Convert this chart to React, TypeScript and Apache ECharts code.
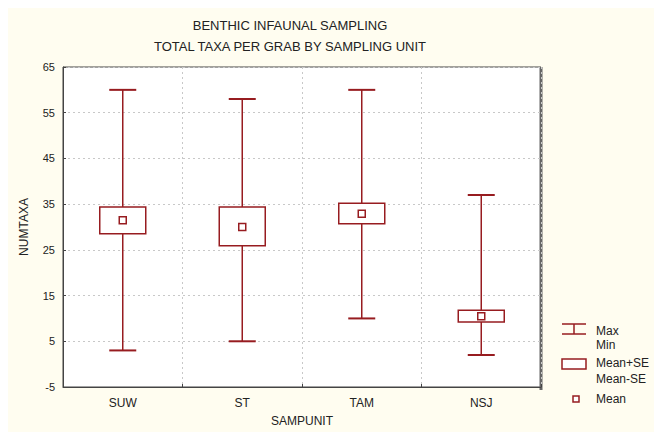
import React, { useEffect, useRef } from "react";
import * as echarts from "echarts";

const categories = ["SUW", "ST", "TAM", "NSJ"];
const minVals = [3, 5, 10, 2];
const maxVals = [60, 58, 60, 37];
const meanMinusSE = [28.5, 25.9, 30.7, 9.2];
const meanPlusSE = [34.4, 34.4, 35.2, 11.8];
const meanVals = [31.5, 30.0, 32.9, 10.5];
const yTicks = { min: -5, max: 65, interval: 10 };

const RED = "#971c20";
const FONT = "Liberation Sans";

export default function App() {
  const ref = useRef<HTMLDivElement>(null);
  useEffect(() => {
    if (!ref.current) return;
    document.body.style.margin = "0";
    document.documentElement.style.overflow = "hidden";
    const chart = echarts.init(ref.current, null, { renderer: "svg" });
    const data = categories.map((_, i) => [i, minVals[i], maxVals[i], meanMinusSE[i], meanPlusSE[i], meanVals[i]]);
    const txt = { fontFamily: FONT, fontSize: 12, fill: "#222" };
    chart.setOption({
      animation: false,
      backgroundColor: "#fffdf0",
      title: [
        { text: "BENTHIC INFAUNAL SAMPLING", left: 277, top: 6, textAlign: "center", textStyle: { fontFamily: FONT, fontSize: 13, fontWeight: "normal", color: "#222" } },
        { text: "TOTAL TAXA PER GRAB BY SAMPLING UNIT", left: 277, top: 27, textAlign: "center", textStyle: { fontFamily: FONT, fontSize: 13, fontWeight: "normal", color: "#222" } },
      ],
      grid: { left: 55, top: 59, right: 113, bottom: 42, show: true, backgroundColor: "#ffffff", borderColor: "#444", borderWidth: 1 },
      xAxis: {
        type: "category",
        data: categories,
        boundaryGap: true,
        name: "SAMPUNIT",
        nameLocation: "middle",
        nameGap: 28,
        nameTextStyle: { fontFamily: FONT, fontSize: 12, color: "#222" },
        axisLine: { onZero: false, lineStyle: { color: "#444" } },
        axisTick: { show: true, inside: true, length: 3, lineStyle: { color: "#444" } },
        axisLabel: { fontFamily: FONT, fontSize: 12, color: "#222", margin: 10 },
        splitLine: { show: true, lineStyle: { color: "#c8c8c8", type: [2, 3] } },
      },
      yAxis: {
        type: "value",
        min: yTicks.min,
        max: yTicks.max,
        interval: yTicks.interval,
        name: "NUMTAXA",
        nameLocation: "middle",
        nameGap: 33,
        nameRotate: 90,
        nameTextStyle: { fontFamily: FONT, fontSize: 12, color: "#222" },
        axisLine: { show: true, onZero: false, lineStyle: { color: "#444" } },
        axisTick: { show: true, inside: true, length: 3, lineStyle: { color: "#444" } },
        axisLabel: { fontFamily: FONT, fontSize: 11, color: "#222", margin: 8 },
        splitLine: { show: true, lineStyle: { color: "#c8c8c8", type: [2, 3] } },
      },
      series: [
        {
          type: "custom",
          data,
          renderItem: (params: any, api: any) => {
            const i = api.value(0);
            const pMin = api.coord([i, api.value(1)]);
            const pMax = api.coord([i, api.value(2)]);
            const pLo = api.coord([i, api.value(3)]);
            const pHi = api.coord([i, api.value(4)]);
            const pMean = api.coord([i, api.value(5)]);
            const x = pMin[0];
            const capW = 27;
            const boxW = 46;
            const ms = 7;
            const st = { stroke: RED, lineWidth: 1.5, fill: null };
            return {
              type: "group",
              children: [
                { type: "line", shape: { x1: x, y1: pMin[1], x2: x, y2: pMax[1] }, style: st },
                { type: "line", shape: { x1: x - capW / 2, y1: pMax[1], x2: x + capW / 2, y2: pMax[1] }, style: { ...st, lineWidth: 2 } },
                { type: "line", shape: { x1: x - capW / 2, y1: pMin[1], x2: x + capW / 2, y2: pMin[1] }, style: { ...st, lineWidth: 2 } },
                { type: "rect", shape: { x: x - boxW / 2, y: pHi[1], width: boxW, height: pLo[1] - pHi[1] }, style: { stroke: RED, lineWidth: 1.5, fill: "#fff" } },
                { type: "rect", shape: { x: x - ms / 2, y: pMean[1] - ms / 2, width: ms, height: ms }, style: { stroke: RED, lineWidth: 1.5, fill: "#fff" } },
              ],
            };
          },
        },
      ],
      graphic: [
        { type: "line", shape: { x1: 533, y1: 59, x2: 533, y2: 382 }, style: { stroke: "#666", lineWidth: 3 } },
        { type: "line", shape: { x1: 554, y1: 316, x2: 578, y2: 316 }, style: { stroke: RED, lineWidth: 1.5 } },
        { type: "line", shape: { x1: 566, y1: 316, x2: 566, y2: 326 }, style: { stroke: RED, lineWidth: 1.5 } },
        { type: "line", shape: { x1: 554, y1: 326, x2: 578, y2: 326 }, style: { stroke: RED, lineWidth: 1.5 } },
        { type: "text", x: 588, y: 323, style: { ...txt, text: "Max", verticalAlign: "middle" } },
        { type: "text", x: 588, y: 337, style: { ...txt, text: "Min", verticalAlign: "middle" } },
        { type: "rect", shape: { x: 554, y: 351, width: 24, height: 10 }, style: { stroke: RED, lineWidth: 1.5, fill: "#fff" } },
        { type: "text", x: 588, y: 355, style: { ...txt, text: "Mean+SE", verticalAlign: "middle" } },
        { type: "text", x: 588, y: 371, style: { ...txt, text: "Mean-SE", verticalAlign: "middle" } },
        { type: "rect", shape: { x: 565, y: 388, width: 6, height: 6 }, style: { stroke: RED, lineWidth: 1.5, fill: "#fff" } },
        { type: "text", x: 588, y: 391, style: { ...txt, text: "Mean", verticalAlign: "middle" } },
      ],
    });
    return () => chart.dispose();
  }, []);
  return (
    <div style={{ width: 654, height: 432, position: "relative", background: "#fff" }}>
      <div ref={ref} style={{ position: "absolute", left: 8, top: 8, width: 646, height: 424 }} />
    </div>
  );
}
